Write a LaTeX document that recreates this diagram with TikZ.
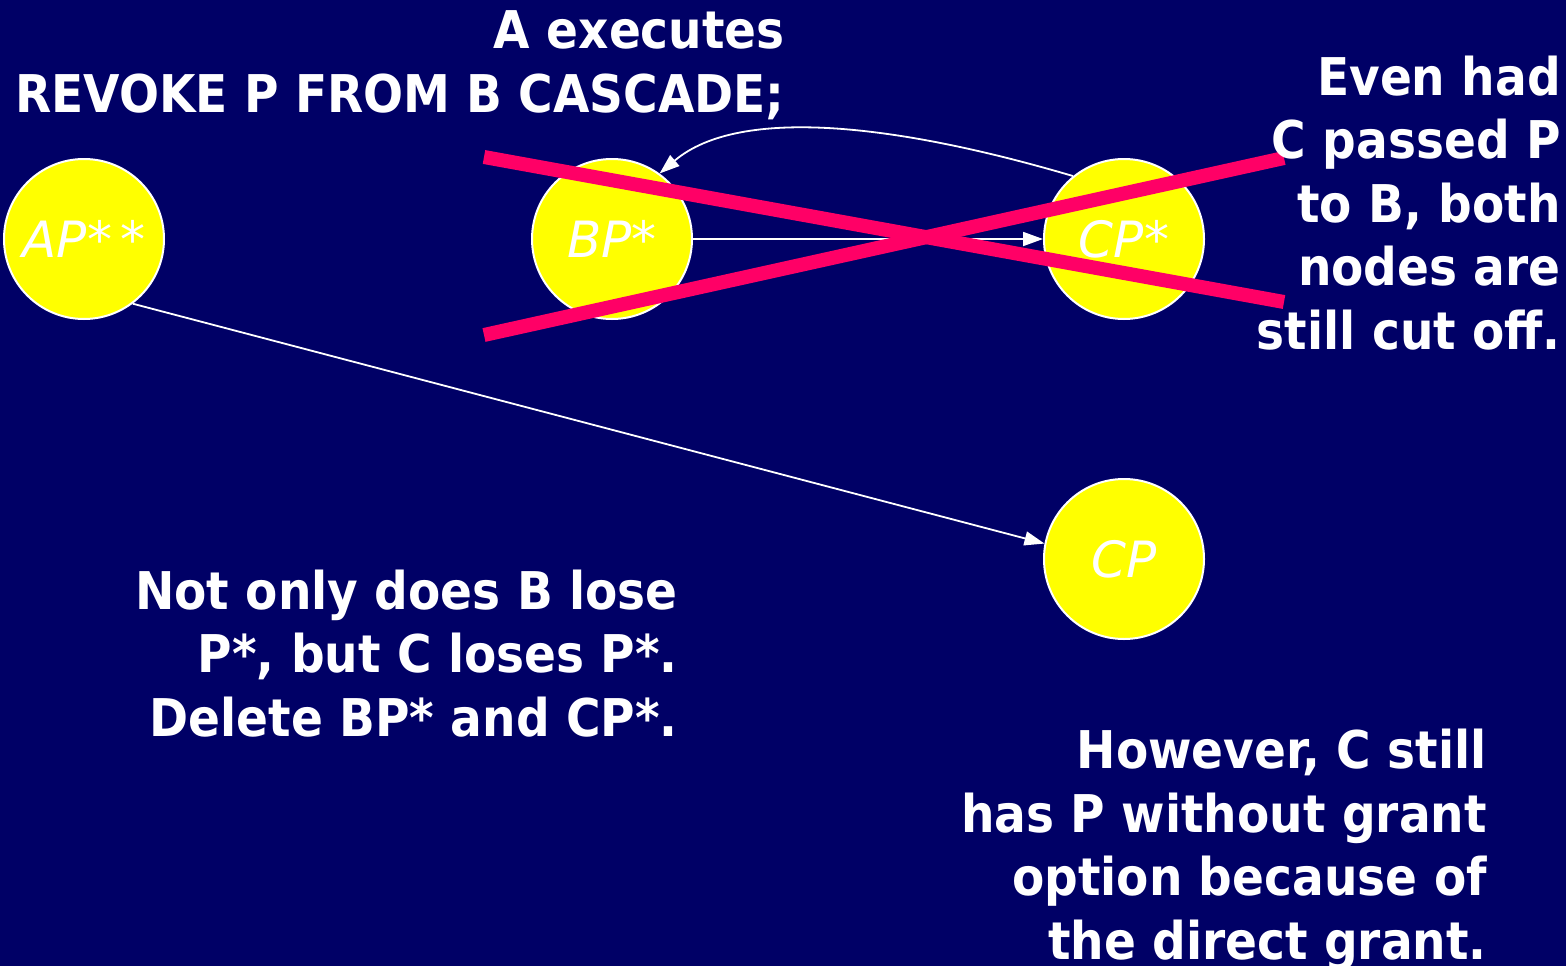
\documentclass[tikz,border=0pt]{standalone}
\usepackage{fontspec}
\setmainfont{DejaVu Sans}[FakeStretch=0.905]
\newfontfamily\labelfont{DejaVu Sans}
\usetikzlibrary{arrows.meta}
\definecolor{navy}{HTML}{000066}
\definecolor{sun}{HTML}{FFFF00}
\definecolor{strike}{HTML}{FF0066}
\begin{document}
\begin{tikzpicture}[x=1pt,y=-1pt,
  priv/.style={circle,draw=white,line width=2pt,fill=sun,minimum size=160pt,inner sep=0pt,
    text=white,font=\labelfont\fontsize{50}{50}\selectfont\itshape},
  conn/.style={draw=white,line width=1.8pt,-{Triangle[length=20pt,width=14pt]}},
  cross/.style={draw=strike,line width=14pt},
  note/.style={text=white,align=right,anchor=base east,inner sep=0pt,
    font=\fontsize{52}{63.5}\selectfont\bfseries}]
  % background
  \fill[navy] (0,0) rectangle (1566,966);
  \useasboundingbox (0,0) rectangle (1566,966);

  % privilege nodes
  \node[priv] (AP) at (84,239) {AP*\,*};
  \node[priv] (BPs) at (612,239) {BP*};
  \node[priv] (CPs) at (1124,239) {CP*};
  \node[priv] (CP) at (1124,559) {CP};

  % grants
  \draw[conn] (AP.-53) -- (CP.169);
  \draw[conn] (BPs.east) -- (CPs.west);
  \draw[conn] (CPs.129) .. controls (900,125) and (740,105) .. (BPs.54);

  % the deleted part of the graph
  \coordinate (x1a) at (484,157);
  \coordinate (x1b) at (1284,302);
  \coordinate (x2a) at (484,335);
  \coordinate (x2b) at (1284,158);
  \draw[cross] (x1a) -- (x1b);
  \draw[cross] (x2a) -- (x2b);

  % explanatory text (anchored at the baseline of the last line)
  \node[note] (cmd) at (785,112) {A executes\\REVOKE P FROM B CASCADE;};
  \node[note] (even) at (1561,349) {Even had\\C passed P\\to B, both\\nodes are\\still cut off.};
  \node[note] (lose) at (678,736) {Not only does B lose\\P*, but C loses P*.\\Delete BP* and CP*.};
  \node[note] (still) at (1487,959) {However, C still\\has P without grant\\option because of\\the direct grant.};
\end{tikzpicture}
\end{document}
